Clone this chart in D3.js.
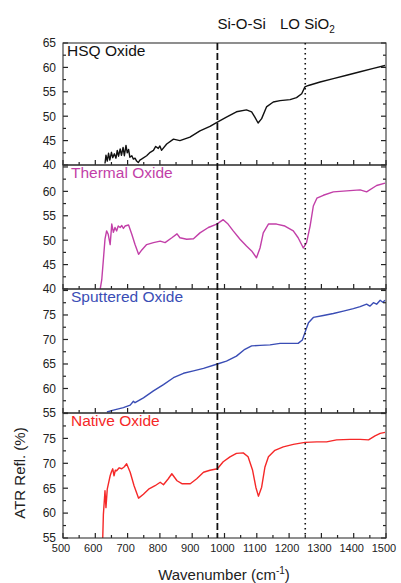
<!DOCTYPE html>
<html>
<head>
<meta charset="utf-8">
<script src="https://cdn.jsdelivr.net/npm/d3@7"></script>
<style>
  body { margin: 0; background: #fff; }
  text { font-family: "Liberation Sans", Arial, sans-serif; }
</style>
</head>
<body>
<svg id="chart" width="401" height="583"></svg>
<script>
// ATR reflectance spectra of four silicon oxides (wavenumber in cm^-1, reflectance in %)
const hsqWn = [630, 633, 637, 641, 645, 650, 654, 659, 664, 668, 672, 677, 681, 686, 690, 695, 699, 703, 707, 713, 718, 723, 728, 733, 738, 743, 759, 770, 780, 787, 795, 800, 805, 821, 842, 862, 893, 924, 955, 978, 1006, 1037, 1068, 1084, 1094, 1104, 1115, 1130, 1151, 1172, 1203, 1223, 1239, 1249, 1260, 1296, 1337, 1378, 1420, 1461, 1497];
const hsqR  = [40.3, 42.0, 40.8, 42.4, 41.0, 42.6, 41.5, 42.3, 41.4, 43.0, 41.8, 43.3, 42.0, 43.6, 41.9, 44.0, 42.5, 43.2, 41.6, 41.9, 41.2, 41.4, 40.8, 40.5, 41.0, 41.2, 41.9, 42.6, 43.0, 43.8, 43.4, 43.9, 43.0, 44.3, 45.3, 45.0, 45.7, 47.0, 47.9, 48.8, 49.8, 50.9, 51.3, 50.9, 49.8, 48.6, 49.5, 51.9, 52.9, 53.2, 53.4, 53.8, 54.6, 56.0, 56.3, 57.0, 57.7, 58.4, 59.1, 59.8, 60.4];

const thermalWn = [614, 620, 625, 630, 635, 640, 646, 651, 656, 661, 666, 671, 677, 682, 687, 692, 703, 713, 723, 734, 744, 759, 780, 801, 816, 837, 853, 862, 883, 904, 924, 950, 976, 996, 1011, 1027, 1048, 1068, 1084, 1099, 1110, 1120, 1136, 1161, 1187, 1213, 1228, 1244, 1254, 1265, 1275, 1286, 1306, 1337, 1378, 1420, 1440, 1471, 1497];
const thermalR  = [39.5, 41.9, 46.0, 50.2, 51.9, 51.2, 49.1, 53.3, 51.6, 52.6, 51.9, 52.9, 52.6, 53.0, 52.4, 52.9, 53.1, 51.2, 49.1, 47.1, 48.0, 49.1, 49.5, 49.8, 49.5, 50.5, 51.3, 50.5, 50.2, 50.3, 51.5, 52.6, 53.3, 54.2, 53.3, 51.9, 50.2, 48.8, 47.8, 46.4, 48.4, 51.5, 53.3, 53.3, 52.9, 51.9, 50.5, 48.4, 49.5, 52.9, 57.0, 58.6, 59.2, 59.9, 60.1, 60.3, 59.9, 61.2, 61.7];

const sputteredWn = [636, 656, 687, 708, 718, 723, 749, 780, 811, 842, 873, 904, 935, 978, 1006, 1037, 1063, 1084, 1110, 1141, 1172, 1203, 1228, 1241, 1249, 1260, 1275, 1306, 1337, 1368, 1399, 1420, 1440, 1450, 1461, 1471, 1482, 1490, 1497];
const sputteredR  = [55.2, 55.6, 56.1, 56.6, 57.4, 57.1, 58.1, 59.5, 60.8, 62.2, 63.1, 63.6, 64.1, 65.0, 65.6, 66.6, 68.0, 68.7, 68.8, 68.9, 69.2, 69.2, 69.2, 69.9, 71.4, 73.4, 74.5, 74.9, 75.3, 75.8, 76.3, 76.7, 77.2, 76.8, 77.5, 77.2, 78.0, 77.6, 78.0];

const nativeWn = [623, 625, 630, 633, 637, 646, 650, 654, 658, 662, 666, 674, 682, 690, 697, 708, 720, 734, 749, 765, 785, 801, 811, 826, 837, 853, 868, 894, 914, 935, 955, 978, 996, 1017, 1037, 1058, 1073, 1087, 1097, 1105, 1115, 1125, 1136, 1156, 1182, 1213, 1249, 1286, 1316, 1347, 1389, 1420, 1446, 1466, 1482, 1497];
const nativeR  = [54.9, 59.7, 64.5, 61.1, 64.8, 67.5, 68.3, 68.9, 67.5, 68.6, 68.5, 69.1, 68.9, 69.3, 69.9, 68.2, 65.5, 63.0, 63.8, 64.8, 65.5, 66.2, 65.7, 66.9, 67.9, 66.5, 65.9, 65.9, 66.9, 68.2, 68.6, 68.9, 70.3, 71.3, 72.0, 72.1, 71.3, 68.6, 65.2, 63.4, 65.2, 69.2, 71.3, 72.6, 73.3, 73.8, 74.2, 74.3, 74.3, 74.7, 74.8, 74.8, 74.7, 75.5, 76.0, 76.2];

// Panel names, colours, value ranges and labelled ticks
const panelNames   = ["HSQ Oxide", "Thermal Oxide", "Sputtered Oxide", "Native Oxide"];
const panelColors  = ["#111111", "#c23fa8", "#3a4db5", "#f52828"];
const panelDomains = [[40, 65], [40, 65.4], [55, 80.3], [55, 80.1]];
const panelLabels  = [[40, 45, 50, 55, 60, 65], [40, 45, 50, 55, 60], [55, 60, 65, 70, 75], [55, 60, 65, 70, 75]];
const seriesWn = [hsqWn, thermalWn, sputteredWn, nativeWn];
const seriesR  = [hsqR, thermalR, sputteredR, nativeR];

// Marker lines and x-axis ticks
const markerWn = [978, 1250];
const markerNames = ["Si-O-Si", "LO SiO"];
const xTickLabels = [500, 600, 700, 800, 900, 1000, 1100, 1200, 1300, 1400, 1500];

const svg = d3.select("#chart");
const left = 63, right = 386;
const panelTops = [43, 165, 289, 413];
const panelBottoms = [165, 289, 413, 538];

const x = d3.scaleLinear().domain([500, 1500]).range([left, right]);

panelNames.forEach((name, i) => {
  const top = panelTops[i], bottom = panelBottoms[i];
  const y = d3.scaleLinear().domain(panelDomains[i]).range([bottom, top]);
  const g = svg.append("g");

  const clipId = "clip" + i;
  svg.append("clipPath").attr("id", clipId)
    .append("rect").attr("x", left).attr("y", top).attr("width", right - left).attr("height", bottom - top);

  // spectrum
  const pts = seriesWn[i].map((w, k) => [w, seriesR[i][k]]);
  g.append("path")
    .attr("clip-path", `url(#${clipId})`)
    .attr("d", d3.line().x(d => x(d[0])).y(d => y(d[1]))(pts))
    .attr("fill", "none")
    .attr("stroke", panelColors[i])
    .attr("stroke-width", 1.4)
    .attr("stroke-linejoin", "round");

  // y ticks (inward, left and right): major at labels, minor halfway
  const [d0, d1] = panelDomains[i];
  const minor = d3.range(d0, d1 + 0.01, 2.5);
  minor.forEach(v => {
    const isMajor = v % 5 === 0;
    const len = isMajor ? 5 : 3;
    g.append("line").attr("x1", left).attr("x2", left + len).attr("y1", y(v)).attr("y2", y(v))
      .attr("stroke", "#222").attr("stroke-width", 1.2);
    g.append("line").attr("x1", right).attr("x2", right - len).attr("y1", y(v)).attr("y2", y(v))
      .attr("stroke", "#222").attr("stroke-width", 1.2);
  });

  // y tick labels
  g.selectAll("text.yl").data(panelLabels[i]).enter().append("text")
    .attr("x", 56).attr("y", d => y(d)).attr("dy", "0.36em")
    .attr("text-anchor", "end").attr("font-size", 12).attr("fill", "#222")
    .text(d => d);

  // x ticks along the panel bottom (inward)
  d3.range(500, 1501, 50).forEach(w => {
    const len = w % 100 === 0 ? 5 : 3;
    g.append("line").attr("x1", x(w)).attr("x2", x(w)).attr("y1", bottom).attr("y2", bottom - len)
      .attr("stroke", "#222").attr("stroke-width", 1.2);
  });

  // panel frame
  g.append("rect").attr("x", left).attr("y", top).attr("width", right - left).attr("height", bottom - top)
    .attr("fill", "none").attr("stroke", "#333").attr("stroke-width", 1.1);

  // panel name
  g.append("text").attr("x", i === 0 ? 67 : 71).attr("y", top + 13)
    .attr("font-size", 15.5).attr("fill", panelColors[i]).text(name);
});

// marker lines across all panels
svg.append("line").attr("x1", x(markerWn[0])).attr("x2", x(markerWn[0]))
  .attr("y1", 43).attr("y2", 538)
  .attr("stroke", "#111").attr("stroke-width", 1.8).attr("stroke-dasharray", "7,3");
svg.append("line").attr("x1", x(markerWn[1])).attr("x2", x(markerWn[1]))
  .attr("y1", 43).attr("y2", 538)
  .attr("stroke", "#111").attr("stroke-width", 1.6).attr("stroke-dasharray", "1.6,3.4");

// marker labels
svg.append("text").attr("x", x(markerWn[0])).attr("y", 29)
  .attr("font-size", 15).attr("fill", "#111").text(markerNames[0]);
const lo = svg.append("text").attr("x", 280).attr("y", 29)
  .attr("font-size", 15).attr("fill", "#111").text(markerNames[1]);
lo.append("tspan").attr("font-size", 10).attr("dy", 4).text("2");

// x tick labels
svg.selectAll("text.xl").data(xTickLabels).enter().append("text")
  .attr("x", d => x(d) - 2).attr("y", 552)
  .attr("text-anchor", "middle").attr("font-size", 11).attr("fill", "#222")
  .text(d => d);

// axis titles
const xt = svg.append("text").attr("x", 224).attr("y", 580)
  .attr("text-anchor", "middle").attr("font-size", 15).attr("fill", "#222")
  .text("Wavenumber (cm");
xt.append("tspan").attr("font-size", 10).attr("dy", -6).text("-1");
xt.append("tspan").attr("dy", 6).text(")");

svg.append("text").attr("transform", "translate(25,473) rotate(-90)")
  .attr("text-anchor", "middle").attr("font-size", 15).attr("fill", "#222")
  .text("ATR Refl. (%)");
</script>
</body>
</html>
